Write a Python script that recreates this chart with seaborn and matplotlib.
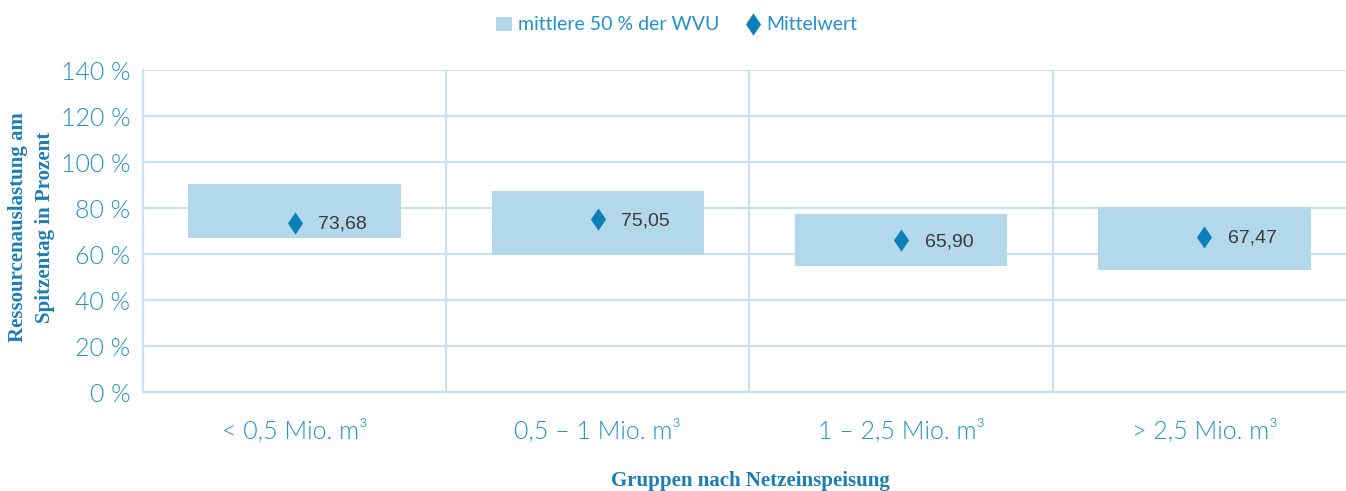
import matplotlib
matplotlib.use('Agg')
import matplotlib.pyplot as plt
from matplotlib.patches import Patch
from matplotlib.lines import Line2D
import seaborn as sns
import numpy as np

# Data
groups = ['< 0,5 Mio. m³', '0,5 – 1 Mio. m³', '1 – 2,5 Mio. m³', '> 2,5 Mio. m³']
q_low = [67.0, 59.7, 54.7, 53.0]      # lower edge of middle 50 %
q_high = [90.3, 87.3, 77.6, 80.4]     # upper edge of middle 50 %
means = [73.68, 75.05, 65.90, 67.47]
y_ticks = [0, 20, 40, 60, 80, 100, 120, 140]

# Colours
box_color = '#b3d8ec'
diamond_color = '#0a80b9'
tick_color = '#2292c9'
label_color = '#1a7db4'
grid_color = '#c8e2f1'
value_color = '#3a3a3a'

# diamond a bit wider than matplotlib's 'd'
diamond = [(0, 1), (0.68, 0), (0, -1), (-0.68, 0), (0, 1)]

sns.set_theme(style='white')
plt.rcParams['font.family'] = ['Lato', 'DejaVu Sans']

fig = plt.figure(figsize=(13.46, 4.91), dpi=100)
ax = fig.add_axes([0.1062, 0.2016, 1 - 0.1062, 0.6558])

heights = np.array(q_high) - np.array(q_low)
sns.barplot(x=groups, y=heights, bottom=q_low, color=box_color, saturation=1,
            width=0.70, errorbar=None, linewidth=0, ax=ax, zorder=2)

sns.stripplot(x=groups, y=means, jitter=False, marker=diamond, size=16,
              color=diamond_color, linewidth=0, ax=ax, zorder=3)

for i, m in enumerate(means):
    ax.annotate(f"{m:.2f}".replace('.', ','), xy=(i, m), xytext=(17, -1),
                textcoords='offset points', ha='left', va='center',
                family='Liberation Sans', fontsize=14, color=value_color, zorder=4)

# grid and separators
ax.set_ylim(0, 140)
ax.set_xlim(-0.5, 3.5 - 10 / 303.3)
ax.set_yticks(y_ticks)
ax.set_yticklabels([f"{t} %" for t in y_ticks])
ax.yaxis.grid(True, color=grid_color, linewidth=1.6, zorder=0)
ax.set_axisbelow(True)
for xv in [0.5, 1.5, 2.5]:
    ax.axvline(xv, color=grid_color, linewidth=1.6, zorder=0)

for side in ['top', 'right']:
    ax.spines[side].set_visible(False)
for side in ['left', 'bottom']:
    ax.spines[side].set_color(grid_color)
    ax.spines[side].set_linewidth(1.6)

ax.tick_params(axis='y', length=0, pad=9, labelsize=18, labelcolor=tick_color)
ax.tick_params(axis='x', length=0, pad=20, labelsize=18, labelcolor=tick_color)
for lbl in ax.get_yticklabels() + ax.get_xticklabels():
    lbl.set_fontweight(300)

ax.set_ylabel('Ressourcenauslastung am\nSpitzentag in Prozent', family='Liberation Serif',
              fontweight='bold', fontsize=15, color=label_color, va='center',
              linespacing=1.5)
ax.yaxis.set_label_coords(-0.0925, 0.511)
ax.set_xlabel('Gruppen nach Netzeinspeisung', family='Liberation Serif',
              fontweight='bold', fontsize=15, color=label_color, va='center')
ax.xaxis.set_label_coords(0.5046, -0.276)

handles = [Patch(facecolor=box_color, edgecolor='none', label='mittlere 50 % der WVU'),
           Line2D([], [], linestyle='none', marker=diamond, markersize=16,
                  color=diamond_color, markeredgewidth=0, label='Mittelwert')]
leg = fig.legend(handles=handles, loc='center', bbox_to_anchor=(0.503, 1 - 25 / 491),
                 ncol=2, frameon=False, fontsize=14, handlelength=0.82,
                 handleheight=0.72, handletextpad=0.3, columnspacing=1.3)
for t in leg.get_texts():
    t.set_color(tick_color)

fig.savefig('out.png', dpi=100)
